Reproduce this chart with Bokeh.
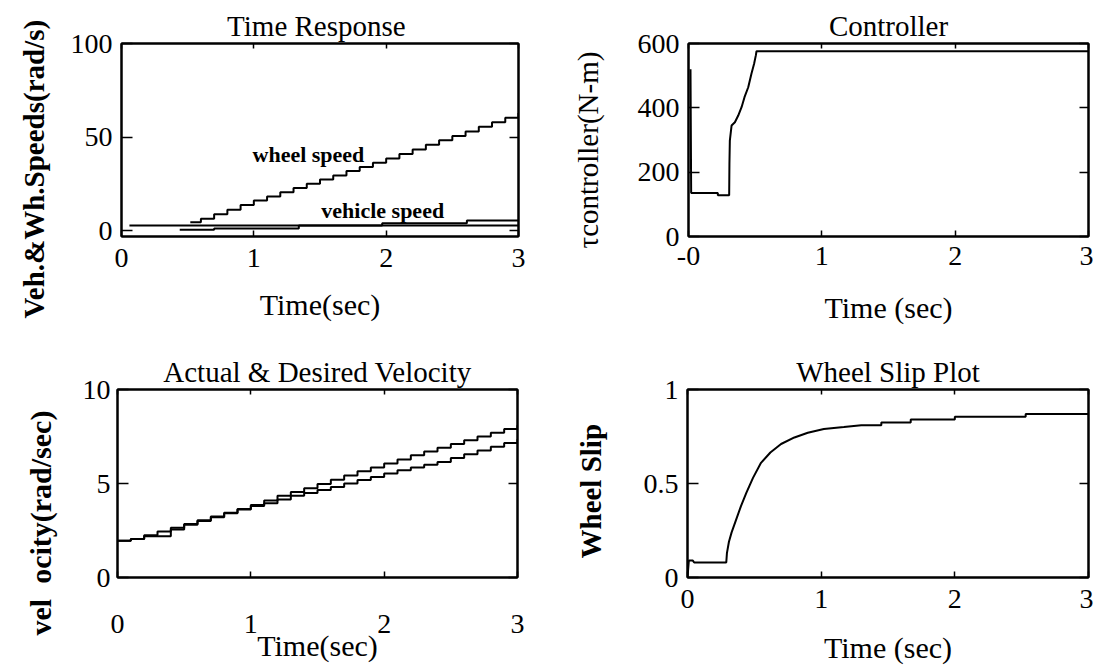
from bokeh.plotting import figure
from bokeh.layouts import column, row
from bokeh.models import LinearAxis, Label, FixedTicker, Range1d, Title
from bokeh.embed import file_html
from bokeh.resources import INLINE

FONT = "Liberation Serif"

# ---------------- data ----------------
# Panel 1: Time Response
wheel_t = [0.52, 0.6, 0.7, 0.8, 0.9, 1.0, 1.1, 1.2, 1.3, 1.4, 1.5, 1.6, 1.7,
           1.8, 1.9, 2.0, 2.1, 2.2, 2.3, 2.4, 2.5, 2.6, 2.7, 2.8, 2.9, 3.0]
wheel_speed = [4.6, 6.5, 8.9, 11.3, 13.8, 16.2, 18.4, 20.6, 22.9, 25.1, 27.4, 29.6, 31.9,
               34.1, 36.4, 38.6, 41.0, 43.4, 45.9, 48.3, 50.7, 53.1, 55.6, 58.0, 60.4, 62.9]
vehicle_t = [0.44, 0.70, 1.34, 1.97, 2.61, 3.0]
vehicle_speed = [0.6, 1.3, 2.9, 4.1, 5.5, 5.5]
ref_t = [0.06, 3.0]
ref_speed = [2.9, 2.9]

# Panel 2: Controller
ctrl_t = [0.015, 0.02, 0.22, 0.22, 0.305, 0.307, 0.31, 0.323, 0.348, 0.373, 0.398,
          0.42, 0.448, 0.472, 0.492, 0.505, 0.51, 3.0]
ctrl_torque = [520, 135, 135, 128, 128, 226, 298, 345, 355, 376, 402,
               433, 464, 506, 537, 563, 576, 576]

# Panel 3: Actual & Desired Velocity
vel_t = [0.0, 0.1, 0.2, 0.3, 0.4, 0.5, 0.6, 0.7, 0.8, 0.9, 1.0, 1.1, 1.2, 1.3, 1.4, 1.5,
         1.6, 1.7, 1.8, 1.9, 2.0, 2.1, 2.2, 2.3, 2.4, 2.5, 2.6, 2.7, 2.8, 2.9, 3.0]
vel_upper = [1.95, 2.05, 2.25, 2.45, 2.65, 2.85, 3.05, 3.25, 3.45, 3.65, 3.85, 4.1, 4.35, 4.55,
             4.75, 4.97, 5.2, 5.42, 5.65, 5.85, 6.07, 6.28, 6.5, 6.7, 6.9, 7.1, 7.3, 7.5,
             7.7, 7.9, 8.1]
vel_lower = [1.95, 2.05, 2.2, 2.2, 2.55, 2.8, 3.0, 3.2, 3.42, 3.62, 3.8, 3.95, 4.15, 4.35,
             4.5, 4.65, 4.82, 5.0, 5.18, 5.35, 5.53, 5.7, 5.85, 6.0, 6.15, 6.35, 6.55, 6.75,
             6.95, 7.15, 7.35]

# Panel 4: Wheel Slip
slip_t = [0.0, 0.01, 0.04, 0.05, 0.29, 0.295, 0.31, 0.33, 0.36, 0.40, 0.44, 0.49, 0.55,
          0.62, 0.70, 0.80, 0.90, 1.02, 1.17, 1.30, 1.45, 1.45, 1.67, 1.67, 2.0, 2.0,
          2.53, 2.53, 3.0]
slip = [0.0, 0.09, 0.09, 0.08, 0.08, 0.13, 0.19, 0.24, 0.30, 0.38, 0.45, 0.53, 0.61,
        0.665, 0.71, 0.745, 0.77, 0.79, 0.80, 0.81, 0.81, 0.825, 0.825, 0.84, 0.84, 0.855,
        0.855, 0.87, 0.87]

x_ticks = [0, 1, 2, 3]


def style_axis(ax, tick_in, standoff, size="28px", hidden=False):
    ax.axis_line_color = "black"
    ax.axis_line_width = 2
    ax.major_tick_in = tick_in
    ax.major_tick_out = 0
    ax.major_tick_line_width = 1.5
    ax.major_tick_line_color = "black"
    ax.minor_tick_in = 0
    ax.minor_tick_out = 0
    ax.major_label_standoff = standoff
    ax.major_label_text_font = FONT
    ax.major_label_text_font_size = size
    ax.major_label_text_color = None if hidden else "black"
    ax.axis_label_text_font = FONT
    ax.axis_label_text_font_size = "30px"
    ax.axis_label_text_font_style = "normal"
    ax.axis_label_text_color = "black"


def make_fig(w, h, yr, yticks, bl, br, bt, bb, title, xstand, ystand):
    p = figure(width=w, height=h, x_range=Range1d(0, 3), y_range=Range1d(*yr),
               output_backend="svg", toolbar_location=None,
               min_border_left=bl, min_border_right=br, min_border_top=bt, min_border_bottom=bb)
    p.title.text = title
    p.title.align = "center"
    p.title.text_font = FONT
    p.title.text_font_size = "29px"
    p.title.text_font_style = "normal"
    p.title.text_color = "black"
    p.title.standoff = 3
    p.grid.visible = False
    p.outline_line_color = "black"
    p.outline_line_width = 2
    p.outline_line_alpha = 1
    p.background_fill_color = "white"
    p.border_fill_color = "white"
    xa = p.xaxis[0]
    ya = p.yaxis[0]
    xa.ticker = FixedTicker(ticks=x_ticks)
    ya.ticker = FixedTicker(ticks=yticks)
    style_axis(xa, 6, xstand)
    style_axis(ya, 11, ystand)
    right = LinearAxis(ticker=FixedTicker(ticks=yticks))
    style_axis(right, 9, 0, "0px", hidden=True)
    p.add_layout(right, "right")
    top = LinearAxis(ticker=FixedTicker(ticks=x_ticks))
    style_axis(top, 5, 0, "0px", hidden=True)
    p.add_layout(top, "above")
    return p, xa, ya


def y_title(p, text, offset, standoff, style="normal", size="29px"):
    t = Title(text=text, align="left", offset=offset, standoff=standoff,
              vertical_align="middle", text_font=FONT, text_font_size=size,
              text_font_style=style, text_color="black")
    p.add_layout(t, "left")


# ---- Panel 1
p1, x1, y1 = make_fig(540, 333, (-3, 100), [0, 50, 100], 119, 22, 43, 97, "Time  Response", 12, 9)
x1.axis_label = "Time(sec)"
x1.axis_label_standoff = 18
p1.step(wheel_t, wheel_speed, mode="after", line_color="black", line_width=2)
p1.step(vehicle_t, vehicle_speed, mode="after", line_color="black", line_width=2)
p1.line(ref_t, ref_speed, line_color="black", line_width=2)
p1.add_layout(Label(x=0.99, y=40.8, text="wheel speed", text_font=FONT, text_font_size="22px",
                    text_font_style="bold", text_color="black", text_baseline="alphabetic"))
p1.add_layout(Label(x=1.51, y=10.9, text="vehicle speed", text_font=FONT, text_font_size="22px",
                    text_font_style="bold", text_color="black", text_baseline="alphabetic"))
y_title(p1, "Veh.&Wh.Speeds(rad/s)", -82, 33, "bold")

# ---- Panel 2
p2, x2, y2 = make_fig(553, 333, (0, 600), [0, 200, 400, 600], 147, 5, 43, 97, "Controller", 10, 9)
x2.major_label_overrides = {0: "-0"}
x2.axis_label = "Time (sec)"
x2.axis_label_standoff = 23
y_title(p2, "τcontroller(N-m)", -12, 60)
p2.line(ctrl_t, ctrl_torque, line_color="black", line_width=2)

# ---- Panel 3
p3, x3, y3 = make_fig(540, 333, (0, 10), [0, 5, 10], 117, 23, 56, 88,
                      "Actual & Desired Velocity", 37, 7)
x3.axis_label = "Time(sec)"
x3.axis_label_standoff = -7
p3.step(vel_t, vel_upper, mode="after", line_color="black", line_width=2)
p3.step(vel_t, vel_lower, mode="after", line_color="black", line_width=2)
y_title(p3, "vel\u2002ocity(rad/sec)", -58, 44, "bold", "30px")

# ---- Panel 4
p4, x4, y4 = make_fig(553, 333, (0, 1), [0, 0.5, 1], 147, 5, 56, 87, "Wheel Slip Plot", 12, 9)
y4.major_label_overrides = {0: "0", 0.5: "0.5", 1: "1"}
x4.axis_label = "Time (sec)"
x4.axis_label_standoff = 20
y_title(p4, "Wheel Slip", 19, 65, "bold")
p4.line(slip_t, slip, line_color="black", line_width=2)

layout = column(row(p1, p2), row(p3, p4))
open("out.html", "w").write(file_html(layout, INLINE))
